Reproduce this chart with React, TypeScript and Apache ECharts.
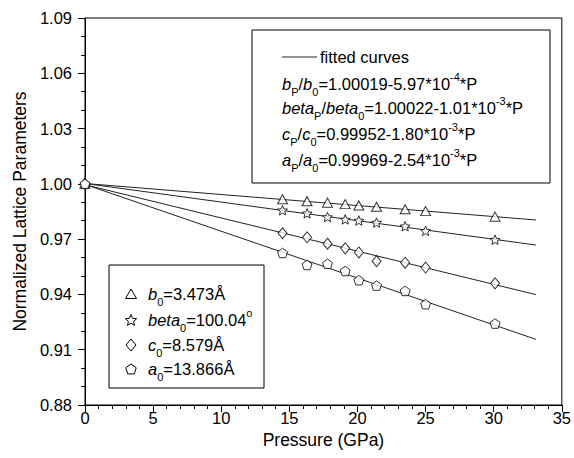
import React, { useEffect, useRef } from "react";
import * as echarts from "echarts";

const pressure = [0, 14.5, 16.3, 17.8, 19.1, 20.1, 21.4, 23.5, 25.0, 30.1];
const bRatio = [1.0, 0.9916, 0.9906, 0.9898, 0.989, 0.9883, 0.9876, 0.9862, 0.9852, 0.9822];
const betaRatio = [1.0, 0.9857, 0.984, 0.982, 0.9807, 0.9801, 0.979, 0.977, 0.9745, 0.9697];
const cRatio = [1.0, 0.9732, 0.971, 0.9675, 0.965, 0.9628, 0.958, 0.9572, 0.9546, 0.946];
const aRatio = [1.0, 0.9625, 0.956, 0.9566, 0.9527, 0.9477, 0.9448, 0.9419, 0.9347, 0.9242];

const fitP = [0, 33.1];
const bFit = [1.0002, 0.9804];
const betaFit = [1.0002, 0.9668];
const cFit = [0.9995, 0.9399];
const aFit = [0.9997, 0.9156];

const FONT = "'Liberation Sans', Arial, Helvetica, sans-serif";

const STAR =
  "path://M50 0 L63.2 31.8 L97.6 34.5 L71.4 57 L79.4 90.5 L50 72.5 L20.6 90.5 L28.6 57 L2.4 34.5 L36.8 31.8 Z";
const PENTAGON = "path://M50 0 L97.6 34.5 L79.4 90.5 L20.6 90.5 L2.4 34.5 Z";

function zip(xs: number[], ys: number[]) {
  return xs.map((x, i) => [x, ys[i]]);
}

const FS = 16.5;
const richStyles = {
  n: { fontSize: FS, lineHeight: 26, fontFamily: FONT, fill: "#000" },
  i: { fontSize: FS, lineHeight: 26, fontFamily: FONT, fontStyle: "italic", fill: "#000" },
  sub: { fontSize: 11, lineHeight: 14, fontFamily: FONT, verticalAlign: "bottom", fill: "#000" },
  sup: { fontSize: 11, lineHeight: 16, fontFamily: FONT, verticalAlign: "top", fill: "#000" },
};

function regPoly(cx: number, cy: number, r: number, n: number, inner?: number) {
  const pts: number[][] = [];
  const total = inner ? n * 2 : n;
  for (let k = 0; k < total; k++) {
    const ang = -Math.PI / 2 + (k * Math.PI * 2) / total;
    const rr = inner && k % 2 === 1 ? r * inner : r;
    pts.push([cx + rr * Math.cos(ang), cy + rr * Math.sin(ang)]);
  }
  return pts;
}

export default function App() {
  const ref = useRef<HTMLDivElement>(null);
  useEffect(() => {
    if (!ref.current) return;
    const chart = echarts.init(ref.current, undefined, { renderer: "svg" });
    const scatterBase = {
      type: "scatter",
      symbolSize: 9,
      symbolKeepAspect: true,
      itemStyle: { color: "#fff", borderColor: "#000", borderWidth: 1 },
      z: 3,
    };
    const lineBase = {
      type: "line",
      showSymbol: false,
      symbol: "none",
      lineStyle: { color: "#222", width: 1 },
      z: 2,
    };
    const legendIconStyle = { fill: "#fff", stroke: "#000", lineWidth: 1 };
    const lx = 131;
    const ly = [294, 320, 345, 369];
    const fy = [84, 108, 134, 160];
    const fx = 282;
    chart.setOption({
      animation: false,
      backgroundColor: "#fff",
      grid: {
        left: 85,
        right: 11,
        top: 18,
        bottom: 53,
        show: true,
        borderColor: "#000",
        borderWidth: 1,
      },
      xAxis: {
        type: "value",
        min: 0,
        max: 35,
        interval: 5,
        name: "Pressure (GPa)",
        nameLocation: "middle",
        nameGap: 26,
        nameTextStyle: { fontSize: 17.5, fontFamily: FONT, color: "#000" },
        axisLine: { show: true, lineStyle: { color: "#000", width: 1 } },
        axisTick: { show: true, inside: false, length: 7, lineStyle: { color: "#000" } },
        minorTick: { show: true, splitNumber: 5, length: 4, lineStyle: { color: "#000" } },
        splitLine: { show: false },
        axisLabel: { fontSize: FS, fontFamily: FONT, color: "#000", margin: 4 },
      },
      yAxis: {
        type: "value",
        min: 0.88,
        max: 1.09,
        interval: 0.03,
        name: "Normalized Lattice Parameters",
        nameLocation: "middle",
        nameGap: 55,
        nameTextStyle: { fontSize: 17.5, fontFamily: FONT, color: "#000" },
        axisLine: { show: true, lineStyle: { color: "#000", width: 1 } },
        axisTick: { show: true, inside: false, length: 7, lineStyle: { color: "#000" } },
        minorTick: { show: true, splitNumber: 3, length: 4, lineStyle: { color: "#000" } },
        splitLine: { show: false },
        axisLabel: {
          fontSize: FS,
          fontFamily: FONT,
          color: "#000",
          margin: 13,
          formatter: (v: number) => v.toFixed(2),
        },
      },
      series: [
        { ...lineBase, name: "b fit", data: zip(fitP, bFit) },
        { ...lineBase, name: "beta fit", data: zip(fitP, betaFit) },
        { ...lineBase, name: "c fit", data: zip(fitP, cFit) },
        { ...lineBase, name: "a fit", data: zip(fitP, aFit) },
        { ...scatterBase, name: "b", symbol: "triangle", symbolSize: [10, 9], data: zip(pressure, bRatio) },
        { ...scatterBase, name: "beta", symbol: STAR, symbolSize: 10, data: zip(pressure, betaRatio) },
        { ...scatterBase, name: "c", symbol: "diamond", symbolSize: [9, 11], data: zip(pressure, cRatio) },
        { ...scatterBase, name: "a", symbol: PENTAGON, symbolSize: 10, data: zip(pressure, aRatio) },
      ],
      graphic: [
        {
          type: "rect",
          shape: { x: 252, y: 30, width: 298, height: 153 },
          style: { fill: "#fff", stroke: "#000", lineWidth: 1 },
          z: 10,
        },
        {
          type: "line",
          shape: { x1: 282, y1: 57, x2: 317, y2: 57 },
          style: { stroke: "#222", lineWidth: 1 },
          z: 11,
        },
        {
          type: "text",
          x: 320,
          y: 57,
          z: 11,
          style: { text: "fitted curves", font: `${FS}px ${FONT}`, fill: "#000", verticalAlign: "middle" },
        },
        {
          type: "text",
          x: fx,
          y: fy[0],
          z: 11,
          style: {
            text: "{i|b}{sub|P}{n|/}{i|b}{sub|0}{n|=1.00019-5.97*10}{sup|-4}{n|*P}",
            rich: richStyles,
            verticalAlign: "middle",
          },
        },
        {
          type: "text",
          x: fx,
          y: fy[1],
          z: 11,
          style: {
            text: "{i|beta}{sub|P}{n|/}{i|beta}{sub|0}{n|=1.00022-1.01*10}{sup|-3}{n|*P}",
            rich: richStyles,
            verticalAlign: "middle",
          },
        },
        {
          type: "text",
          x: fx,
          y: fy[2],
          z: 11,
          style: {
            text: "{i|c}{sub|P}{n|/}{i|c}{sub|0}{n|=0.99952-1.80*10}{sup|-3}{n|*P}",
            rich: richStyles,
            verticalAlign: "middle",
          },
        },
        {
          type: "text",
          x: fx,
          y: fy[3],
          z: 11,
          style: {
            text: "{i|a}{sub|P}{n|/}{i|a}{sub|0}{n|=0.99969-2.54*10}{sup|-3}{n|*P}",
            rich: richStyles,
            verticalAlign: "middle",
          },
        },
        {
          type: "rect",
          shape: { x: 109, y: 265, width: 155, height: 123 },
          style: { fill: "#fff", stroke: "#000", lineWidth: 1 },
          z: 10,
        },
        {
          type: "polygon",
          z: 11,
          shape: { points: [[lx - 5.5, ly[0] + 4.5], [lx + 5.5, ly[0] + 4.5], [lx, ly[0] - 5]] },
          style: legendIconStyle,
        },
        {
          type: "polygon",
          z: 11,
          shape: { points: regPoly(lx, ly[1] + 0.5, 6, 5, 0.45) },
          style: legendIconStyle,
        },
        {
          type: "polygon",
          z: 11,
          shape: { points: [[lx, ly[2] - 6], [lx + 5, ly[2]], [lx, ly[2] + 6], [lx - 5, ly[2]]] },
          style: legendIconStyle,
        },
        {
          type: "polygon",
          z: 11,
          shape: { points: regPoly(lx, ly[3] + 0.5, 5.5, 5) },
          style: legendIconStyle,
        },
        {
          type: "text",
          x: 148,
          y: ly[0],
          z: 11,
          style: { text: "{i|b}{sub|0}{n|=3.473Å}", rich: richStyles, verticalAlign: "middle" },
        },
        {
          type: "text",
          x: 148,
          y: ly[1],
          z: 11,
          style: { text: "{i|beta}{sub|0}{n|=100.04}{sup|o}", rich: richStyles, verticalAlign: "middle" },
        },
        {
          type: "text",
          x: 148,
          y: ly[2],
          z: 11,
          style: { text: "{i|c}{sub|0}{n|=8.579Å}", rich: richStyles, verticalAlign: "middle" },
        },
        {
          type: "text",
          x: 148,
          y: ly[3],
          z: 11,
          style: { text: "{i|a}{sub|0}{n|=13.866Å}", rich: richStyles, verticalAlign: "middle" },
        },
      ],
    });
    return () => chart.dispose();
  }, []);
  return <div ref={ref} style={{ width: 574, height: 458, position: "absolute", left: 0, top: 0 }} />;
}
